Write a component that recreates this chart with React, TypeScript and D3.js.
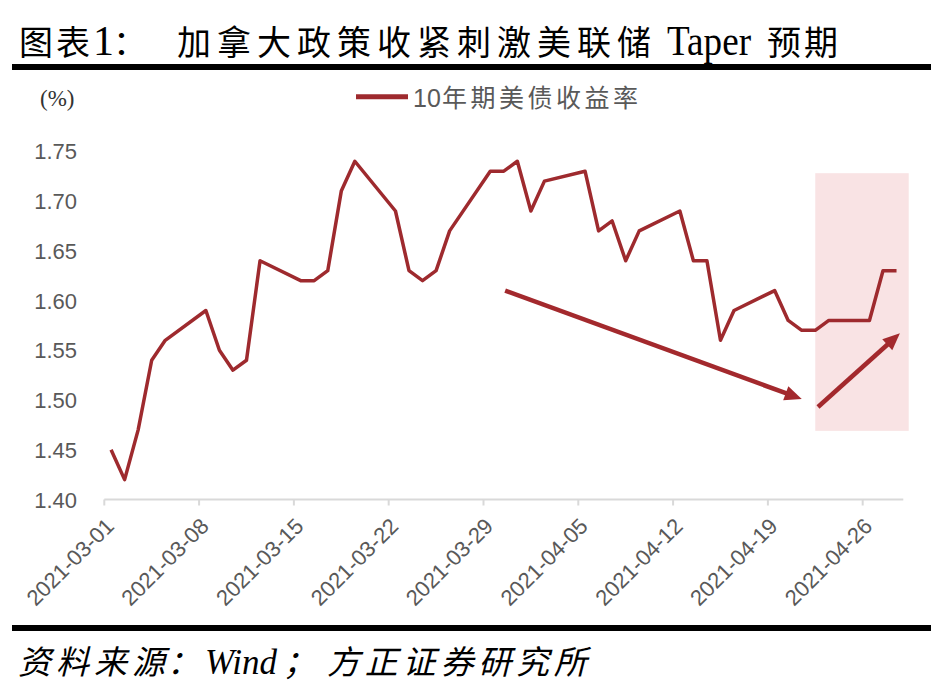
import React from "react";
import * as d3 from "d3";

// ---- data ----
const dates = [
  "2021-03-01", "2021-03-02", "2021-03-03", "2021-03-04", "2021-03-05",
  "2021-03-08", "2021-03-09", "2021-03-10", "2021-03-11", "2021-03-12",
  "2021-03-15", "2021-03-16", "2021-03-17", "2021-03-18", "2021-03-19",
  "2021-03-22", "2021-03-23", "2021-03-24", "2021-03-25", "2021-03-26",
  "2021-03-29", "2021-03-30", "2021-03-31", "2021-04-01", "2021-04-02",
  "2021-04-05", "2021-04-06", "2021-04-07", "2021-04-08", "2021-04-09",
  "2021-04-12", "2021-04-13", "2021-04-14", "2021-04-15", "2021-04-16",
  "2021-04-19", "2021-04-20", "2021-04-21", "2021-04-22", "2021-04-23",
  "2021-04-26", "2021-04-27", "2021-04-28",
];
const yields = [
  1.45, 1.42, 1.47, 1.54, 1.56,
  1.59, 1.55, 1.53, 1.54, 1.64,
  1.62, 1.62, 1.63, 1.71, 1.74,
  1.69, 1.63, 1.62, 1.63, 1.67,
  1.73, 1.73, 1.74, 1.69, 1.72,
  1.73, 1.67, 1.68, 1.64, 1.67,
  1.69, 1.64, 1.64, 1.56, 1.59,
  1.61, 1.58, 1.57, 1.57, 1.58,
  1.58, 1.63, 1.63,
];
const xTickLabels = [
  "2021-03-01", "2021-03-08", "2021-03-15", "2021-03-22", "2021-03-29",
  "2021-04-05", "2021-04-12", "2021-04-19", "2021-04-26",
];
const yTicks = [1.4, 1.45, 1.5, 1.55, 1.6, 1.65, 1.7, 1.75];
const axisStart = "2021-03-01";
const axisEnd = "2021-04-29";
const seriesName = "10年期美债收益率";
// annotations in data space: [day offset from axisStart, value]
const downArrow = [[29.6, 1.61], [51.5, 1.501]];
const upArrow = [[52.7, 1.493], [58.75, 1.567]];
const shadeDays = [52.5, 59.4];
const shadeValues = [1.469, 1.728];

const DAY = 864e5;
const dayIdx = (s: string) => (Date.parse(s) - Date.parse(axisStart)) / DAY;

const RED = "#9e2a2e";
const GRAY = "#595959";
const SANS = "'Liberation Sans', Arial, 'Noto Sans CJK SC', sans-serif";
const SERIF = "'Liberation Serif', 'Times New Roman', 'Noto Sans CJK SC', serif";
const CJK = "'Noto Sans CJK SC', sans-serif";

function Arrow({ p1, p2, x, y }: any) {
  const x1 = x(p1[0]), y1 = y(p1[1]), x2 = x(p2[0]), y2 = y(p2[1]);
  const len = Math.hypot(x2 - x1, y2 - y1);
  const ux = (x2 - x1) / len, uy = (y2 - y1) / len;
  const L = 17, W = 7.5;
  const bx = x2 - ux * L, by = y2 - uy * L;
  const nx = -uy, ny = ux;
  return (
    <g>
      <line x1={x1} y1={y1} x2={bx + ux * 3} y2={by + uy * 3} stroke="#a3292d" strokeWidth={4.5} />
      <polygon
        points={`${x2},${y2} ${bx + nx * W},${by + ny * W} ${bx - nx * W},${by - ny * W}`}
        fill="#a3292d"
      />
    </g>
  );
}

export default function App() {
  const width = 948, height = 689;
  const x = d3.scaleLinear().domain([0, dayIdx(axisEnd)]).range([104.3, 903.3]);
  const y = d3.scaleLinear().domain([1.4, 1.75]).range([499.5, 151.3]);
  const pts = dates.map((d, i) => [dayIdx(d) + 0.5, yields[i]] as [number, number]);
  const line = d3.line<[number, number]>().x((d) => x(d[0])).y((d) => y(d[1]));
  const axisY = y(1.4);

  return (
    <svg width={width} height={height} style={{ display: "block", background: "#fff" }}>
      <style>{`body{margin:0}`}</style>
      <rect width={width} height={height} fill="#fff" />

      {/* title */}
      <text y={55} fill="#000">
        <tspan x={19} fontFamily={CJK} fontSize={34} letterSpacing={3}>图表</tspan>
        <tspan x={93} fontFamily={SERIF} fontSize={42}>1</tspan>
        <tspan x={113} fontFamily={CJK} fontSize={34}>：</tspan>
        <tspan x={177} fontFamily={CJK} fontSize={34} letterSpacing={6}>加拿大政策收紧刺激美联储</tspan>
        <tspan x={667} fontFamily={SERIF} fontSize={42} textLength={84} lengthAdjust="spacingAndGlyphs">Taper</tspan>
        <tspan x={767} fontFamily={CJK} fontSize={34} letterSpacing={3}>预期</tspan>
      </text>
      <rect x={12} y={64} width={919} height={6} fill="#000" />

      {/* unit */}
      <text x={40} y={106} fontFamily={SERIF} fontSize={23} fill="#333">(%)</text>

      {/* legend */}
      <line x1={356} x2={408} y1={96.7} y2={96.7} stroke={RED} strokeWidth={5} />
      <text y={107} fill={GRAY}>
        <tspan x={413} fontFamily={SANS} fontSize={25}>{seriesName.slice(0, 2)}</tspan>
        <tspan x={442} fontFamily={CJK} fontSize={25} letterSpacing={3.5}>{seriesName.slice(2)}</tspan>
      </text>

      {/* shaded region */}
      <rect
        x={x(shadeDays[0])}
        y={y(shadeValues[1])}
        width={x(shadeDays[1]) - x(shadeDays[0])}
        height={y(shadeValues[0]) - y(shadeValues[1])}
        fill="#f9e3e4"
      />

      {/* y tick labels */}
      {yTicks.map((t) => (
        <text key={t} x={77} y={y(t) + 8} textAnchor="end" fontFamily={SANS} fontSize={22} fill={GRAY}>
          {t.toFixed(2)}
        </text>
      ))}

      {/* x axis */}
      <line x1={x(0)} x2={x(dayIdx(axisEnd))} y1={axisY} y2={axisY} stroke="#d9d9d9" strokeWidth={2} />
      {xTickLabels.map((s) => {
        const tx = x(dayIdx(s));
        return (
          <g key={s}>
            <line x1={tx} x2={tx} y1={axisY} y2={axisY + 6} stroke="#d9d9d9" strokeWidth={2} />
            <text
              transform={`translate(${tx + 11},${axisY + 28}) rotate(-45)`}
              textAnchor="end"
              fontFamily={SANS}
              fontSize={22}
              fill={GRAY}
            >
              {s}
            </text>
          </g>
        );
      })}

      {/* series */}
      <path d={line(pts) || ""} fill="none" stroke={RED} strokeWidth={3.5} strokeLinejoin="round" />

      {/* arrows */}
      <Arrow p1={downArrow[0]} p2={downArrow[1]} x={x} y={y} />
      <Arrow p1={upArrow[0]} p2={upArrow[1]} x={x} y={y} />

      {/* footer */}
      <rect x={12} y={625} width={919} height={6} fill="#000" />
      <text y={674} fill="#000" fontStyle="italic">
        <tspan x={18} fontFamily={CJK} fontSize={33} letterSpacing={5}>资料来源</tspan>
        <tspan x={167} fontFamily={CJK} fontSize={33}>：</tspan>
        <tspan x={205} fontFamily={SERIF} fontSize={35}>Wind</tspan>
        <tspan x={283} fontFamily={CJK} fontSize={33}>；</tspan>
        <tspan x={327} fontFamily={CJK} fontSize={33} letterSpacing={4.8}>方正证券研究所</tspan>
      </text>
    </svg>
  );
}
